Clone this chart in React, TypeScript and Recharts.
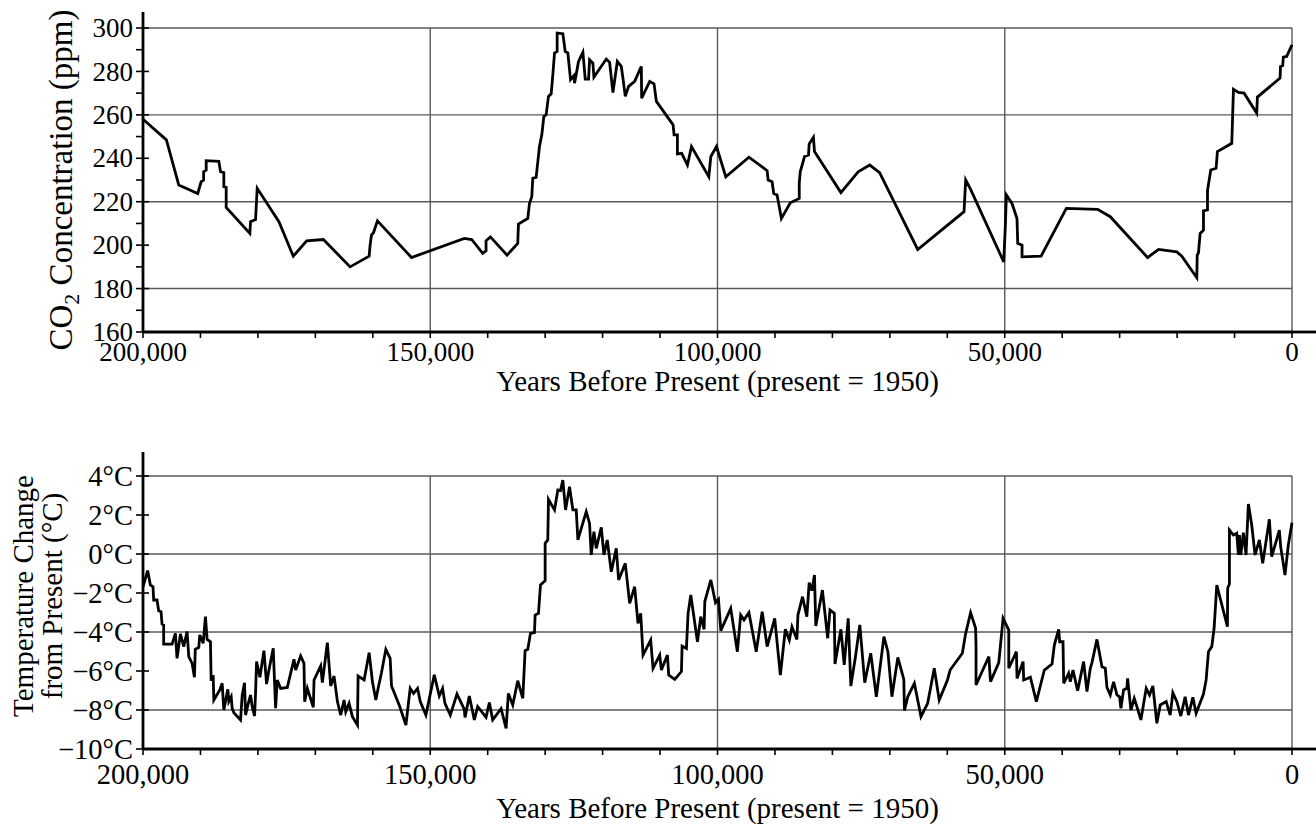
import React from 'react';
import { LineChart, Line, XAxis, YAxis, ReferenceLine } from 'recharts';

const FONT = '"Liberation Serif", "Times New Roman", Times, serif';
const INK = '#000';
const GRID = '#5a5a5a';

// ---------- data ----------
const co2Years = [
  200000, 195930, 193780, 190470, 189880, 189450, 189450, 189000, 189000, 186800,
  186510, 185930, 185930, 185520, 185520, 181400, 181280, 180410, 180120, 176340,
  173840, 171510, 168600, 163950, 160640, 160470, 160230, 159880, 159190, 153260,
  144070, 142790, 140870, 140290, 140290, 139530, 136630, 134770, 134650, 133020,
  132730, 132330, 132150, 131570, 130990, 130580, 130230, 129830, 129420, 128950,
  128660, 128370, 127910, 127910, 126920, 126510, 126050, 125580, 125000, 124880,
  124190, 123430, 123020, 122440, 122270, 121690, 121510, 119360, 118780, 118200,
  117440, 116750, 116460, 116050, 115470, 114420, 113260, 113200, 111800, 111050,
  110640, 107730, 107560, 106980, 106980, 106230, 105230, 104530, 101510, 101160,
  100170, 98560, 94530, 91360, 91190, 90500, 90210, 89630, 88880, 87330,
  85770, 85770, 85600, 84850, 84160, 84040, 83300, 83120, 78520, 75520,
  73500, 71780, 65150, 57090, 56800, 55940, 50180, 49890, 49720, 48740,
  47870, 47740, 46990, 46990, 43680, 39280, 33830, 31630, 25140, 23230,
  20040, 19180, 16570, 16500, 16280, 15990, 15410, 15410, 14710, 14710,
  14140, 13210, 12980, 10480, 10190, 9330, 8340, 6140, 6020, 2080,
  2000, 1620, 1510, 930, 0,
];
const co2Ppm = [
  258, 248.5, 227.7, 223.8, 229.2, 230, 233.8, 234.6, 238.9, 238.6,
  233.8, 233.4, 226.9, 226.6, 217.4, 205.4, 210.8, 211.8, 226.2, 210.8,
  194.9, 202, 202.6, 190, 194.9, 200, 204.6, 205.7, 211.2, 194.3,
  203.1, 202.6, 196.2, 197.4, 202, 203.8, 195.4, 200.8, 209.7, 212.3,
  219.2, 222.3, 230.8, 231.2, 245.4, 250.8, 259.2, 260, 268.5, 269.7,
  278.5, 288.5, 289.2, 297.7, 297.4, 289.2, 288.5, 276.2, 278, 274.6,
  284.6, 288.8, 276.5, 276.5, 285.4, 283.8, 277.4, 285.7, 284.2, 270.3,
  284.6, 282.3, 276.9, 268.5, 273.1, 275.4, 282.3, 267.7, 275.4, 274.3,
  266.2, 255.4, 250.8, 250.8, 242, 242.3, 236.9, 245.4, 231.5, 240.8,
  245.4, 231.5, 240.5, 234.3, 230, 229.2, 223.8, 223.1, 212.3, 219.5,
  221.5, 228.5, 233.8, 240.8, 241.5, 246.6, 249.7, 243.1, 224.2, 233.8,
  236.9, 233.4, 198, 215.4, 230, 225.7, 192.3, 209.2, 223.1, 219.2,
  212.3, 200.8, 200, 194.6, 194.9, 216.9, 216.5, 213.1, 194.3, 198,
  196.9, 194.9, 185, 195.4, 196.5, 205.4, 206.9, 215.8, 216.2, 225.1,
  234.6, 235.4, 243.1, 246.9, 271.8, 270.3, 270, 260.8, 268.2, 276.9,
  282.3, 282.6, 286.6, 286.9, 292.3,
];

const tempYears = [
  200000, 199190, 198720, 198260, 198140, 197560, 197270, 196860, 196690, 196400,
  196400, 194940, 194360, 194070, 193490, 192910, 192330, 192030, 191450, 191050,
  190900, 190290, 190120, 189530, 189130, 188840, 188260, 188140, 187790, 187670,
  186630, 186220, 185930, 185230, 185060, 184650, 184480, 184190, 183020, 182730,
  182330, 182150, 181740, 181280, 180990, 180580, 180410, 180230, 179650, 178950,
  178490, 178080, 177330, 176920, 176630, 176050, 174880, 173720, 173430, 172560,
  171980, 171860, 171400, 170350, 170230, 169070, 168780, 167910, 167330, 166740,
  166160, 165580, 165000, 164710, 164130, 163550, 162670, 162560, 161510, 160640,
  160060, 159470, 159070, 158490, 157730, 156980, 156740, 155410, 154240, 153490,
  152910, 152210, 151740, 150760, 149300, 148430, 147850, 147440, 146510, 145350,
  144070, 143950, 143200, 142330, 141740, 140290, 139710, 139130, 137670, 136800,
  136400, 135640, 134770, 133890, 133490, 133020, 132560, 131860, 131740, 131160,
  130990, 130810, 130000, 130000, 129540, 129420, 128370, 127790, 127330, 126920,
  126450, 125760, 125170, 124590, 124300, 122850, 122270, 121980, 121510, 121100,
  120230, 119770, 119190, 118490, 117620, 117210, 116050, 115290, 114420, 113840,
  113370, 112960, 111630, 111220, 110060, 109770, 108720, 108490, 107440, 106280,
  106160, 105410, 105120, 104650, 103490, 102910, 102330, 102210, 101160, 100350,
  99830, 99420, 97700, 96540, 95970, 95390, 94530, 93260, 92220, 91360,
  90040, 89060, 88190, 87500, 87040, 86180, 86000, 85200, 84450, 84040,
  83580, 83120, 82890, 81740, 80820, 80420, 79670, 79550, 78520, 77940,
  77250, 76790, 75980, 75230, 74370, 73330, 72350, 71030, 70340, 69640,
  68610, 67570, 67460, 66880, 65730, 64580, 63420, 62270, 61410, 59970,
  59510, 57380, 56800, 55940, 55070, 55000, 55000, 52770, 52480, 51040,
  50290, 49300, 49300, 47970, 47860, 46810, 46700, 45540, 44500, 43110,
  41770, 41370, 40610, 40440, 39860, 39740, 38880, 38590, 38120, 37310,
  36270, 35690, 35110, 34820, 33950, 33080, 32500, 32210, 31630, 31050,
  30470, 30010, 29780, 29320, 28740, 28620, 28040, 27460, 27000, 26300,
  25380, 24800, 24220, 23520, 22940, 21900, 21200, 20740, 20040, 19350,
  18600, 18020, 17260, 16690, 15410, 14950, 14540, 13960, 13560, 13090,
  11240, 11200, 10890, 10890, 10200, 9620, 9330, 9150, 8920, 8460,
  8000, 7590, 7010, 6430, 5680, 5100, 3940, 3530, 2200, 1970,
  1220, 640, 0,
];
const tempC = [
  -1.68, -0.85, -1.59, -1.68, -2.36, -2.36, -2.91, -2.96, -3.59, -3.64,
  -4.62, -4.62, -4.07, -5.35, -4.1, -4.75, -3.98, -5.26, -5.61, -6.32,
  -4.89, -4.79, -4.15, -4.58, -3.21, -4.38, -4.5, -6.5, -6.21, -7.49,
  -6.97, -6.63, -8.0, -6.94, -7.57, -7.32, -7.91, -8.14, -8.51, -7.23,
  -6.6, -8.26, -7.74, -7.23, -7.83, -8.31, -7.15, -5.52, -6.32, -4.96,
  -6.67, -5.95, -4.84, -7.91, -6.46, -6.89, -6.84, -5.4, -5.95, -5.23,
  -5.61, -7.57, -6.89, -7.86, -6.46, -5.74, -6.6, -4.55, -6.77, -6.26,
  -7.57, -8.26, -7.49, -8.09, -7.66, -8.34, -8.77, -6.26, -6.46, -5.06,
  -6.55, -7.49, -6.89, -6.09, -4.89, -5.35, -6.77, -7.74, -8.77, -6.89,
  -7.15, -6.89, -7.57, -8.26, -6.2, -7.28, -6.89, -7.66, -8.26, -7.18,
  -7.97, -8.38, -7.28, -8.51, -7.83, -8.38, -7.62, -8.51, -7.93, -8.94,
  -7.15, -7.74, -6.5, -7.4, -4.96, -4.89, -4.07, -4.03, -3.13, -3.04,
  -2.32, -1.59, -1.37, 0.55, 0.72, 2.8, 2.26, 3.28, 3.25, 3.79,
  2.26, 3.45, 2.26, 2.26, 0.72, 2.17, 1.57, -0.05, 1.15, 0.29,
  1.37, -0.05, 0.72, -0.91, 0.29, -1.33, -0.48, -2.53, -1.68, -3.56,
  -3.04, -5.18, -4.41, -5.86, -5.18, -5.95, -5.18, -6.21, -6.43, -6.03,
  -4.72, -4.84, -3.04, -2.1, -4.5, -3.21, -3.86, -2.44, -1.33, -2.5,
  -2.32, -3.93, -2.79, -5.01, -3.13, -3.38, -3.01, -5.01, -2.96, -4.75,
  -3.3, -6.21, -3.86, -4.41, -3.73, -4.38, -3.13, -2.19, -3.21, -1.47,
  -1.88, -1.08, -3.69, -1.85, -4.32, -2.87, -3.04, -5.64, -3.86, -5.69,
  -3.3, -6.77, -5.26, -3.64, -6.6, -5.09, -7.32, -4.24, -5.01, -7.32,
  -5.3, -6.43, -8.03, -7.32, -6.63, -8.34, -7.66, -5.86, -7.49, -6.46,
  -5.95, -5.09, -4.07, -3.01, -3.81, -4.75, -6.72, -5.26, -6.55, -5.57,
  -3.3, -3.9, -5.86, -5.01, -6.38, -5.52, -6.46, -6.32, -7.57, -5.95,
  -5.64, -4.67, -3.86, -4.5, -4.5, -6.63, -6.12, -6.55, -5.95, -7.01,
  -5.52, -7.06, -5.86, -5.57, -4.38, -5.78, -5.86, -6.84, -7.23, -6.55,
  -7.23, -7.32, -7.91, -6.97, -6.89, -6.38, -8.0, -7.4, -7.83, -8.51,
  -6.89, -7.23, -6.77, -8.68, -7.74, -7.57, -8.26, -7.11, -7.57, -8.31,
  -7.32, -8.26, -7.35, -8.17, -7.18, -6.46, -5.01, -4.75, -3.81, -1.59,
  -3.73, -1.76, -1.54, 1.23, 0.97, 1.06, -0.05, 0.97, -0.05, 1.09,
  -0.05, 2.56, 1.49, -0.05, 0.72, -0.48, 1.78, -0.14, 1.23, 0.38,
  -1.08, 0.46, 1.6,
];

const yearTicks = [
  0, 10000, 20000, 30000, 40000, 50000, 60000, 70000, 80000, 90000, 100000,
  110000, 120000, 130000, 140000, 150000, 160000, 170000, 180000, 190000, 200000,
];
const yearGrid = [0, 50000, 100000, 150000];
const YEAR_LABEL_STEP = 50000;

const co2Ticks = [160, 170, 180, 190, 200, 210, 220, 230, 240, 250, 260, 270, 280, 290, 300];
const co2Grid = [180, 220, 260, 300];
const CO2_LABEL_STEP = 20;

const tempTicks = [-10, -8, -6, -4, -2, 0, 2, 4];
const tempGrid = [-8, -4, 0, 4];
const TEMP_LABEL_STEP = 2;

const co2Data = co2Years.map((year, i) => ({ year, ppm: co2Ppm[i] }));
const tempData = tempYears.map((year, i) => ({ year, temp: tempC[i] }));

// ---------- styling / layout ----------
const CHART_W = 1316;
const TOP_H = 410;
const BOT_H = 419;
const Y_AXIS_W = 143;
const TICK_OUT = 7;
const TICK_IN = 6;
const TICK_GAP = 3;
const AXIS_W = 2.8;
const LINE_W = 2.8;

const isStep = (v: number, step: number) => Math.abs(v / step - Math.round(v / step)) < 1e-6;
const fmtTemp = (v: number) => (v < 0 ? `\u2212${-v}\u00B0C` : `${v}\u00B0C`);

const makeYTick = (labelStep: number, fontSize: number, fmt: (v: number) => string) => (props: any) => {
  const { x, y, payload } = props;
  const v = payload.value as number;
  const axisX = x + TICK_OUT + TICK_GAP;
  const major = isStep(v, labelStep);
  return (
    <g>
      <line x1={axisX - TICK_OUT} x2={axisX + (major ? TICK_IN : 0)} y1={y} y2={y} stroke={INK} strokeWidth={1.6} />
      {major ? (
        <text x={x} y={y} dy="0.34em" textAnchor="end" fontSize={fontSize} fontFamily={FONT} fill={INK}>
          {fmt(v)}
        </text>
      ) : null}
    </g>
  );
};

const makeXTick = (fontSize: number, baselineDy: number) => (props: any) => {
  const { x, y, payload } = props;
  const v = payload.value as number;
  if (!isStep(v, YEAR_LABEL_STEP)) return <g />;
  return (
    <text x={x} y={y + baselineDy} textAnchor="middle" fontSize={fontSize} fontFamily={FONT} fill={INK}>
      {v.toLocaleString('en-US')}
    </text>
  );
};

const X_TITLE = 'Years Before Present (present = 1950)';

export default function App() {
  return (
    <div style={{ position: 'absolute', left: 0, top: 0, width: CHART_W, height: TOP_H + BOT_H, background: '#fff' }}>
      <LineChart width={CHART_W} height={TOP_H} data={co2Data} margin={{ top: 28, right: 24, left: 0, bottom: 0 }}>
        <XAxis
          dataKey="year"
          type="number"
          domain={[0, 200000]}
          reversed
          ticks={yearTicks}
          interval={0}
          height={78}
          tickSize={6}
          tickMargin={0}
          tickLine={{ stroke: INK, strokeWidth: 1.6 }}
          axisLine={{ stroke: INK, strokeWidth: AXIS_W }}
          tick={makeXTick(27, 23)}
        />
        <YAxis
          type="number"
          domain={[160, 300]}
          ticks={co2Ticks}
          interval={0}
          width={Y_AXIS_W}
          tickSize={TICK_OUT}
          tickMargin={TICK_GAP}
          tickLine={false}
          axisLine={{ stroke: INK, strokeWidth: AXIS_W }}
          tick={makeYTick(CO2_LABEL_STEP, 27, (v) => String(v))}
        />
        {co2Grid.map((v) => (
          <ReferenceLine key={`cg${v}`} y={v} stroke={GRID} strokeWidth={1.4} />
        ))}
        {yearGrid.map((v) => (
          <ReferenceLine key={`cx${v}`} x={v} stroke={GRID} strokeWidth={1.4} />
        ))}
        <ReferenceLine
          segment={[{ x: 200000, y: 300 }, { x: 200000, y: 307.4 }]}
          stroke={INK}
          strokeWidth={AXIS_W}
          ifOverflow="visible"
        />
        <ReferenceLine
          segment={[{ x: 0, y: 160 }, { x: -4200, y: 160 }]}
          stroke={INK}
          strokeWidth={AXIS_W}
          ifOverflow="visible"
        />
        <Line
          type="linear"
          dataKey="ppm"
          stroke={INK}
          strokeWidth={LINE_W}
          dot={false}
          activeDot={false}
          isAnimationActive={false}
        />
      </LineChart>

      <LineChart width={CHART_W} height={BOT_H} data={tempData} margin={{ top: 66, right: 24, left: 0, bottom: 0 }}>
        <XAxis
          dataKey="year"
          type="number"
          domain={[0, 200000]}
          reversed
          ticks={yearTicks}
          interval={0}
          height={80}
          tickSize={6}
          tickMargin={0}
          tickLine={{ stroke: INK, strokeWidth: 1.6 }}
          axisLine={{ stroke: INK, strokeWidth: AXIS_W }}
          tick={makeXTick(28.5, 29)}
        />
        <YAxis
          type="number"
          domain={[-10, 4]}
          ticks={tempTicks}
          interval={0}
          width={Y_AXIS_W}
          tickSize={TICK_OUT}
          tickMargin={TICK_GAP}
          tickLine={false}
          axisLine={{ stroke: INK, strokeWidth: AXIS_W }}
          tick={makeYTick(TEMP_LABEL_STEP, 28.5, fmtTemp)}
        />
        {tempGrid.map((v) => (
          <ReferenceLine key={`tg${v}`} y={v} stroke={GRID} strokeWidth={1.4} />
        ))}
        {yearGrid.map((v) => (
          <ReferenceLine key={`tx${v}`} x={v} stroke={GRID} strokeWidth={1.4} />
        ))}
        <ReferenceLine
          segment={[{ x: 200000, y: 4 }, { x: 200000, y: 5.23 }]}
          stroke={INK}
          strokeWidth={AXIS_W}
          ifOverflow="visible"
        />
        <ReferenceLine
          segment={[{ x: 0, y: -10 }, { x: -4200, y: -10 }]}
          stroke={INK}
          strokeWidth={AXIS_W}
          ifOverflow="visible"
        />
        <Line
          type="linear"
          dataKey="temp"
          stroke={INK}
          strokeWidth={LINE_W}
          dot={false}
          activeDot={false}
          isAnimationActive={false}
        />
      </LineChart>

      <svg
        width={CHART_W}
        height={TOP_H + BOT_H}
        style={{ position: 'absolute', left: 0, top: 0, pointerEvents: 'none' }}
      >
        <text x={717.5} y={391} textAnchor="middle" fontSize={29} fontFamily={FONT} fill={INK}>
          {X_TITLE}
        </text>
        <text x={717.5} y={818} textAnchor="middle" fontSize={29} fontFamily={FONT} fill={INK}>
          {X_TITLE}
        </text>
        <text
          x={72}
          y={180}
          transform="rotate(-90 72 180)"
          textAnchor="middle"
          fontSize={33}
          fontFamily={FONT}
          fill={INK}
        >
          CO
          <tspan dy={7} fontSize={22}>2</tspan>
          <tspan dy={-7}> Concentration (ppm)</tspan>
        </text>
        <text
          x={33}
          y={596}
          transform="rotate(-90 33 596)"
          textAnchor="middle"
          fontSize={29}
          fontFamily={FONT}
          fill={INK}
        >
          Temperature Change
        </text>
        <text
          x={62}
          y={596}
          transform="rotate(-90 62 596)"
          textAnchor="middle"
          fontSize={29}
          fontFamily={FONT}
          fill={INK}
        >
          from Present (°C)
        </text>
      </svg>
    </div>
  );
}
